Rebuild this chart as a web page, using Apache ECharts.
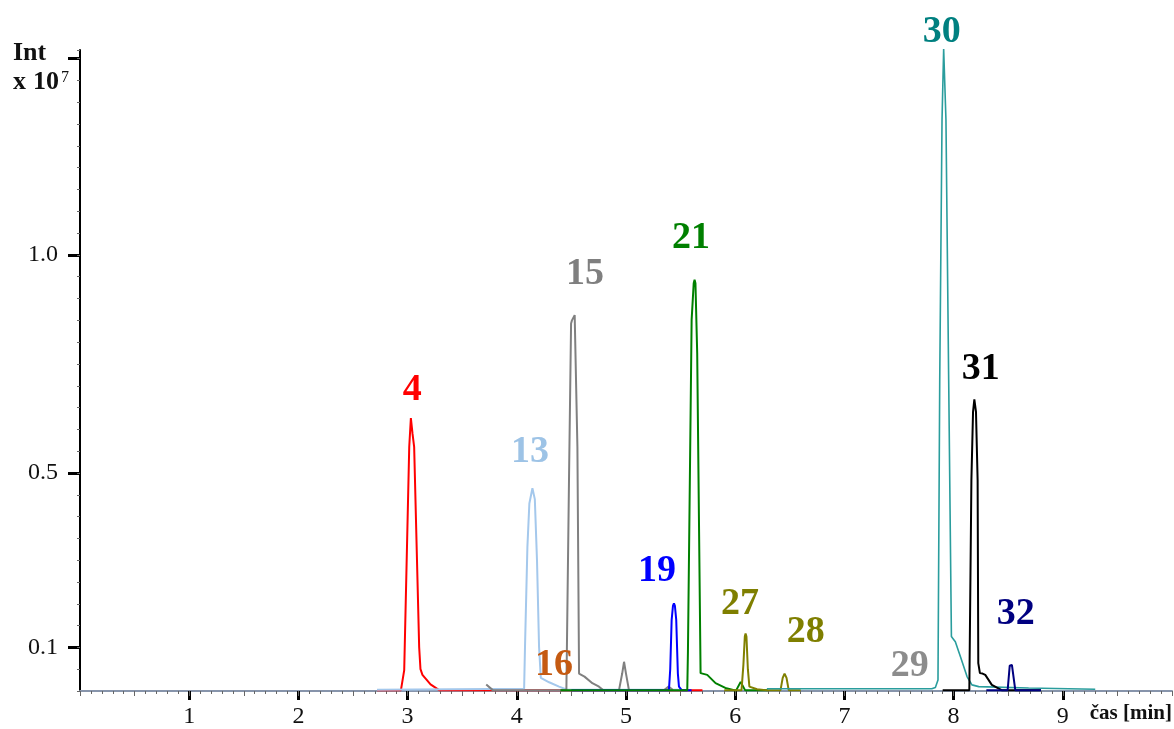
<!DOCTYPE html>
<html>
<head>
<meta charset="utf-8">
<script src="https://cdn.jsdelivr.net/npm/echarts@6/dist/echarts.min.js"></script>
<style>
  html, body { margin: 0; padding: 0; background: #fff; }
  #chart { width: 1174px; height: 729px; }
</style>
</head>
<body>
<div id="chart"></div>
<script>
// Retention time axis (min) and intensity axis (x 10^7)
const timeTicks = [1, 2, 3, 4, 5, 6, 7, 8, 9];
const intensityTicks = [0.1, 0.5, 1.0];

// Extracted ion chromatograms: [time (min), intensity (x 10^7)]
const trace4 = [[2.72,0.002],[2.939,0.002],[2.969,0.048],[3.015,0.56],[3.03,0.626],[3.045,0.59],[3.06,0.56],[3.106,0.10],[3.118,0.05],[3.136,0.037],[3.21,0.015],[3.289,0.002],[5.70,0.002]];
const trace13 = [[2.72,0.003],[4.067,0.005],[4.075,0.10],[4.097,0.33],[4.115,0.43],[4.143,0.465],[4.165,0.44],[4.185,0.30],[4.204,0.10],[4.22,0.03],[4.296,0.02],[4.387,0.01],[4.46,0.003],[5.50,0.003]];
const trace15 = [[3.72,0.015],[3.78,0.002],[4.454,0.002],[4.478,0.484],[4.497,0.843],[4.505,0.85],[4.53,0.862],[4.555,0.56],[4.57,0.04],[4.62,0.033],[4.692,0.018],[4.753,0.01],[4.79,0.002],[4.936,0.002],[4.965,0.04],[4.982,0.067],[5.0,0.04],[5.027,0.002],[5.35,0.002],[5.39,0.01],[5.43,0.002]];
const trace19 = [[4.5,0.002],[5.393,0.002],[5.405,0.05],[5.418,0.163],[5.43,0.195],[5.439,0.201],[5.448,0.195],[5.46,0.163],[5.475,0.04],[5.485,0.01],[5.51,0.002],[5.6,0.002]];
const trace21 = [[4.4,0.002],[5.561,0.002],[5.567,0.087],[5.601,0.851],[5.62,0.935],[5.628,0.943],[5.636,0.935],[5.652,0.775],[5.683,0.041],[5.744,0.037],[5.82,0.018],[5.91,0.007],[5.99,0.002],[6.01,0.002],[6.05,0.021],[6.09,0.002],[6.3,0.002]];
const trace27 = [[5.9,0.002],[6.058,0.002],[6.075,0.06],[6.088,0.125],[6.095,0.132],[6.103,0.125],[6.116,0.05],[6.13,0.01],[6.2,0.004],[6.28,0.002],[6.415,0.002],[6.435,0.03],[6.452,0.040],[6.47,0.03],[6.49,0.002],[6.6,0.002]];
const trace30 = [[6.29,0.005],[7.80,0.005],[7.833,0.008],[7.857,0.025],[7.873,0.713],[7.894,1.31],[7.909,1.472],[7.93,1.31],[7.955,0.713],[7.98,0.125],[7.995,0.12],[8.016,0.113],[8.062,0.079],[8.123,0.033],[8.168,0.014],[8.23,0.01],[8.687,0.007],[9.297,0.004]];
const trace31 = [[7.9,0.002],[8.144,0.002],[8.163,0.484],[8.178,0.64],[8.19,0.669],[8.205,0.64],[8.22,0.484],[8.226,0.064],[8.241,0.041],[8.265,0.04],[8.29,0.037],[8.35,0.014],[8.44,0.002],[8.8,0.002]];
const trace32 = [[8.3,0.002],[8.495,0.002],[8.514,0.058],[8.534,0.060],[8.55,0.058],[8.565,0.002],[8.8,0.002]];

// Peak numbers: [time, intensity, text]
const peakLabels = [
  [3.042, 0.690, '4'],
  [4.122, 0.548, '13'],
  [4.625, 0.956, '15'],
  [4.341, 0.060, '16'],
  [5.284, 0.275, '19'],
  [5.595, 1.039, '21'],
  [6.043, 0.200, '27'],
  [6.647, 0.135, '28'],
  [7.598, 0.057, '29'],
  [7.891, 1.511, '30'],
  [8.248, 0.739, '31'],
  [8.569, 0.177, '32']
];
const peakColors = {
  '4': '#ff0000', '13': '#9dc3e6', '15': '#7f7f7f', '16': '#c55a11',
  '19': '#0000ff', '21': '#008000', '27': '#7f7f00', '28': '#7f7f00',
  '29': '#8c8c8c', '30': '#008080', '31': '#000000', '32': '#000080'
};

const traces = [
  { name: '4', color: '#ff0000', width: 2, data: trace4 },
  { name: '13', color: '#a4c8ec', width: 2, data: trace13 },
  { name: '15', color: '#808080', width: 2, data: trace15 },
  { name: '19', color: '#0000ff', width: 2, data: trace19 },
  { name: '21', color: '#008000', width: 2, data: trace21 },
  { name: '27', color: '#808000', width: 2, data: trace27 },
  { name: '30', color: '#2a9d9d', width: 1.6, data: trace30 },
  { name: '31', color: '#000000', width: 2, data: trace31 },
  { name: '32', color: '#000080', width: 2, data: trace32 }
];

const SERIF = '"Liberation Serif", "Times New Roman", serif';
const Y_MAX = 1.47;

const chart = echarts.init(document.getElementById('chart'), null, { renderer: 'canvas' });

const series = traces.map(t => ({
  name: t.name,
  type: 'line',
  xAxisIndex: 0,
  yAxisIndex: 0,
  data: t.data,
  showSymbol: false,
  symbol: 'none',
  smooth: false,
  clip: false,
  lineStyle: { color: t.color, width: t.width },
  silent: true,
  z: 3
}));

// Peak numbers, anchored in data coordinates
series.push({
  type: 'scatter',
  xAxisIndex: 0,
  yAxisIndex: 0,
  clip: false,
  symbolSize: 0,
  silent: true,
  z: 5,
  itemStyle: { opacity: 1 },
  data: peakLabels.map(p => ({
    value: [p[0], p[1]],
    label: { color: peakColors[p[2]] }
  })),
  label: {
    show: true,
    position: 'inside',
    opacity: 1,
    formatter: (params) => peakLabels[params.dataIndex][2],
    fontFamily: SERIF,
    fontWeight: 'bold',
    fontSize: 38
  }
});

chart.setOption({
  animation: false,
  backgroundColor: '#ffffff',
  grid: { left: 80, right: 2, top: 50, bottom: 37, containLabel: false },
  xAxis: [
    {
      type: 'value', min: 0, max: 10, position: 'bottom',
      axisLine: { show: true, lineStyle: { color: '#8794ab', width: 2 } },
      axisTick: { show: true, customValues: timeTicks, length: 9, lineStyle: { color: '#000', width: 3 } },
      axisLabel: { show: true, customValues: timeTicks, margin: 14, fontFamily: SERIF, fontSize: 24, color: '#111' },
      splitLine: { show: false }
    },
    {
      type: 'value', min: 0, max: 10, interval: 0.1, position: 'bottom',
      axisLine: { show: false },
      axisTick: { show: true, length: 3, lineStyle: { color: '#666', width: 1 } },
      axisLabel: { show: false },
      splitLine: { show: false }
    },
    {
      type: 'value', min: 0, max: 10, interval: 0.5, position: 'bottom',
      axisLine: { show: false },
      axisTick: { show: true, length: 5, lineStyle: { color: '#666', width: 1 } },
      axisLabel: { show: false },
      splitLine: { show: false }
    }
  ],
  yAxis: [
    {
      type: 'value', min: 0, max: Y_MAX, position: 'left',
      axisLine: { show: true, lineStyle: { color: '#000', width: 2 } },
      axisTick: { show: true, customValues: intensityTicks.concat([1.45]), length: 12, lineStyle: { color: '#000', width: 3 } },
      axisLabel: {
        show: true, customValues: intensityTicks, margin: 22,
        fontFamily: SERIF, fontSize: 24, color: '#111',
        formatter: v => v.toFixed(1)
      },
      splitLine: { show: false }
    },
    {
      type: 'value', min: 0, max: Y_MAX, interval: 0.05, position: 'left',
      axisLine: { show: false },
      axisTick: { show: true, length: 3, lineStyle: { color: '#666', width: 1 } },
      axisLabel: { show: false },
      splitLine: { show: false }
    }
  ],
  graphic: [
    {
      type: 'text', left: 13, top: 40,
      style: { text: 'Int', font: 'bold 26px ' + SERIF, fill: '#111' }
    },
    {
      type: 'text', left: 13, top: 69,
      style: { text: 'x', font: 'bold 26px ' + SERIF, fill: '#111' }
    },
    {
      type: 'text', left: 33, top: 69,
      style: { text: '10', font: 'bold 26px ' + SERIF, fill: '#111' }
    },
    {
      type: 'text', left: 61, top: 70,
      style: { text: '7', font: '16px ' + SERIF, fill: '#111' }
    },
    {
      type: 'text', right: 2, top: 703,
      style: { text: 'čas [min]', font: 'bold 21px ' + SERIF, fill: '#111' }
    }
  ],
  series: series
});
</script>
</body>
</html>
